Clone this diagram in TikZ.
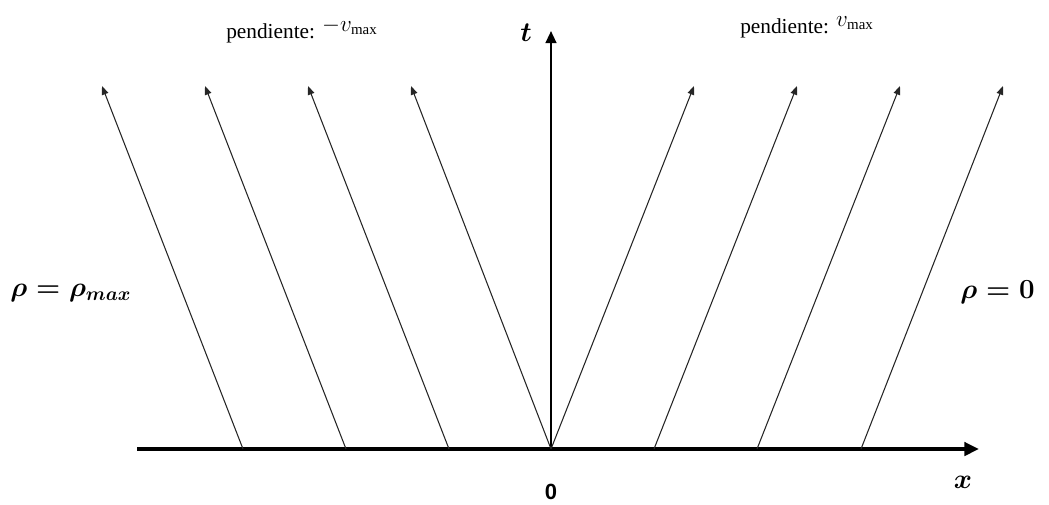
\documentclass[tikz,border=0pt]{standalone}
\usepackage{fontspec}
\usepackage{amsmath}
\usepackage{bm}
\setmainfont{Liberation Serif}
\newfontfamily\zerofont{Liberation Sans}
\usetikzlibrary{arrows.meta}
\begin{document}
\begin{tikzpicture}[x=0.75pt,y=-0.75pt]
\useasboundingbox (0,0) rectangle (1049,504);
\tikzset{
  xaxis/.style={line width=2.6pt,-{Triangle[length=11pt,width=10pt]}},
  taxis/.style={line width=1.6pt,-{Triangle[length=9pt,width=8pt]}},
  charline/.style={line width=0.8pt,draw=black!85,-{Triangle[length=6.5pt,width=5pt]}},
  lbl/.style={inner sep=0pt},
  slopelbl/.style={inner sep=0pt,anchor=base west,font=\fontsize{16}{18}\selectfont},
  rholbl/.style={inner sep=0pt,font=\fontsize{19.5}{23}\selectfont\boldmath},
}
% axes
\coordinate (xs) at (137,449);
\coordinate (xe) at (979,449);
\coordinate (O) at (551,449);
\coordinate (te) at (551,31);
\draw[xaxis] (xs) -- (xe);
\draw[taxis] (O) -- (te);
% left characteristics (slope -vmax)
\foreach \i/\s/\e in {1/243/102,2/346/205,3/449/308,4/551/411}{
  \coordinate (ls\i) at (\s,449);
  \coordinate (le\i) at (\e,86);
  \draw[charline] (ls\i) -- (le\i);
}
% right characteristics (slope vmax)
\foreach \i/\s/\e in {1/551/694,2/654/797,3/757/900,4/861/1003}{
  \coordinate (rs\i) at (\s,449);
  \coordinate (re\i) at (\e,86);
  \draw[charline] (rs\i) -- (re\i);
}
% labels
\node[slopelbl] (pl) at (226,38) {pendiente: \raisebox{5pt}{$-v_{\mathrm{max}}$}};
\node[slopelbl] (pr) at (740,33) {pendiente: \raisebox{5pt}{$v_{\mathrm{max}}$}};
\node[rholbl,anchor=base west] (rl) at (10,296) {$\rho=\rho_{max}$};
\node[rholbl,anchor=base east] (rr) at (1035,298) {$\rho=0$};
\node[rholbl] (tl) at (526,33) {$t$};
\node[rholbl] (xl) at (963,482) {$x$};
\node[lbl,font=\zerofont\bfseries\fontsize{16.5}{18}\selectfont] (zl) at (551,492) {0};
\end{tikzpicture}
\end{document}
